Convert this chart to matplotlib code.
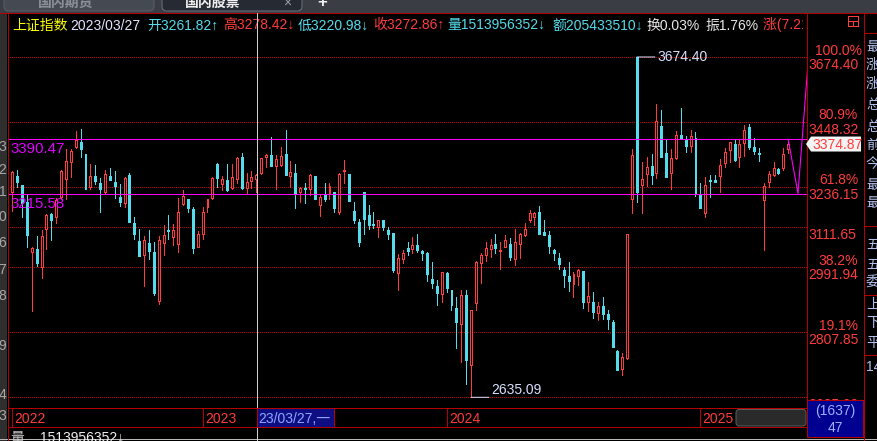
import numpy as np
import matplotlib
matplotlib.use('Agg')
import matplotlib.pyplot as plt
from matplotlib.patches import Rectangle, FancyBboxPatch, Polygon
from matplotlib.transforms import Bbox, TransformedBbox

plt.rcParams['font.family'] = ['Liberation Sans', 'Noto Sans CJK SC', 'DejaVu Sans']

# ---------------- data (weekly candles, 上证指数) ----------------
opens = [3221.6, 3272.0, 3242.6, 3190.1, 3038.2, 3046.1, 2991.9, 3105.2, 3151.9, 3143.8,
         3203.7, 3260.5, 3317.4, 3364.1, 3381.5, 3342.4, 3237.4, 3271.0, 3247.9, 3220.6,
         3271.0, 3252.1, 3205.8, 3186.9, 3274.1, 3125.5, 3070.7, 3029.4, 3064.8, 3037.2,
         2896.1, 3064.8, 3103.2, 3080.9, 3059.9, 3183.8, 3198.5, 3167.2, 3051.0, 3092.0,
         3172.3, 3202.7, 3309.9, 3246.8, 3258.4, 3234.2, 3260.5, 3333.7, 3232.1, 3256.3,
         3261.82, 3279.4, 3333.7, 3338.1, 3304.4, 3306.6, 3342.4, 3272.0, 3280.5, 3220.6,
         3233.2, 3229.0, 3271.0, 3180.6, 3212.1, 3213.2, 3220.6, 3159.1, 3287.0, 3277.3,
         3161.1, 3127.6, 3219.5, 3148.9, 3121.5, 3113.3, 3132.6, 3103.2, 3094.0, 2974.2,
         3015.6, 3049.1, 3047.1, 3058.9, 3041.1, 3034.3, 2958.0, 2938.0, 2914.1, 2975.2,
         2926.6, 2875.2, 2830.0, 2912.3, 2720.6, 2890.3, 3005.7, 3028.4, 3047.1, 3060.9,
         3041.1, 3053.0, 3060.9, 3017.5, 3061.9, 3088.9, 3133.7, 3143.8, 3158.0, 3097.1,
         3087.9, 3043.1, 3019.5, 2984.0, 2966.6, 2944.7, 2967.5, 2981.1, 2893.2, 2892.2,
         2862.3, 2880.8, 2858.6, 2836.5, 2756.3, 2709.9, 2738.5, 3197.4, 3674.40, 3242.6,
         3278.4, 3303.3, 3279.4, 3435.1, 3345.6, 3279.4, 3330.4, 3404.8, 3389.2, 3368.4,
         3394.7, 3212.1, 3154.0, 3258.4, 3258.4, 3272.0, 3312.0, 3355.4, 3375.0, 3331.5,
         3377.1, 3431.7, 3364.1, 3345.6, 3196.4, 3253.1, 3274.1, 3293.6, 3297.9, 3357.6]
highs = [3287.0, 3290.3, 3242.6, 3211.1, 3051.0, 3084.9, 3103.2, 3151.9, 3156.0, 3200.6,
         3290.3, 3358.7, 3357.6, 3419.4, 3425.0, 3342.4, 3309.9, 3306.6, 3263.6, 3290.3,
         3296.8, 3287.0, 3245.8, 3268.9, 3279.4, 3141.8, 3106.2, 3084.9, 3103.2, 3066.8,
         3084.9, 3118.4, 3148.9, 3120.4, 3201.6, 3226.9, 3198.5, 3174.3, 3100.1, 3174.3,
         3198.5, 3268.9, 3314.2, 3272.0, 3309.9, 3309.9, 3333.7, 3345.6, 3279.4, 3287.0,
         3278.42, 3330.4, 3341.3, 3397.0, 3339.1, 3365.2, 3421.6, 3319.6, 3309.9, 3237.4,
         3247.9, 3276.2, 3271.0, 3214.2, 3247.9, 3247.9, 3221.6, 3281.6, 3322.8, 3277.3,
         3189.0, 3136.7, 3220.6, 3179.6, 3158.0, 3133.7, 3133.7, 3113.3, 3095.0, 3031.3,
         3043.1, 3066.8, 3082.9, 3091.0, 3044.1, 3038.2, 3007.7, 2955.1, 2978.1, 2978.1,
         2926.6, 2907.6, 2926.6, 2926.6, 2869.7, 3010.6, 3035.2, 3066.8, 3075.8, 3091.0,
         3067.8, 3086.9, 3078.8, 3106.2, 3094.0, 3123.5, 3164.1, 3158.0, 3177.5, 3133.7,
         3100.1, 3045.1, 3035.2, 2991.9, 3007.7, 2977.2, 2988.0, 2982.1, 2950.4, 2920.8,
         2892.2, 2907.6, 2869.7, 2841.1, 2759.9, 2752.8, 3091.0, 3358.7, 3674.40, 3316.3,
         3333.7, 3342.4, 3509.4, 3488.9, 3388.0, 3358.7, 3418.3, 3494.5, 3401.5, 3421.6,
         3413.8, 3249.0, 3266.8, 3274.1, 3274.1, 3326.0, 3363.0, 3382.6, 3388.0, 3388.0,
         3438.4, 3441.8, 3394.7, 3363.0, 3250.0, 3287.0, 3315.3, 3296.8, 3360.9, 3388.0]
lows = [3162.1, 3237.4, 3143.8, 3053.0, 2867.8, 2995.9, 2961.8, 3047.1, 3072.7, 3125.5,
        3197.4, 3199.5, 3266.8, 3360.9, 3333.7, 3231.1, 3230.0, 3245.8, 3159.1, 3216.3,
        3258.4, 3202.7, 3176.4, 3174.3, 3128.6, 3075.8, 3026.4, 2938.9, 3016.5, 2912.3,
        2887.5, 3028.4, 3075.8, 3058.9, 3038.2, 3180.6, 3157.0, 3035.2, 3051.0, 3076.8,
        3157.0, 3198.5, 3237.4, 3227.9, 3224.9, 3229.0, 3250.0, 3231.1, 3216.3, 3232.1,
        3220.98, 3277.3, 3301.1, 3304.4, 3231.1, 3303.3, 3275.2, 3237.4, 3171.3, 3189.0,
        3184.8, 3211.1, 3199.5, 3146.9, 3193.2, 3198.5, 3159.1, 3153.0, 3250.0, 3193.2,
        3125.5, 3056.0, 3092.0, 3107.2, 3110.2, 3082.9, 3104.2, 3074.7, 2979.1, 2926.6,
        3004.7, 3028.4, 3033.3, 3037.2, 3013.6, 2953.2, 2933.2, 2884.6, 2893.2, 2921.8,
        2869.7, 2766.2, 2728.7, 2669.8, 2635.09, 2869.7, 2946.6, 3011.6, 3023.5, 3033.3,
        2988.0, 3051.0, 3013.6, 2999.8, 3020.5, 3083.9, 3127.6, 3118.4, 3092.0, 3088.9,
        3035.2, 3013.6, 2988.0, 2936.1, 2924.6, 2907.6, 2940.8, 2876.1, 2867.8, 2847.6,
        2842.9, 2843.9, 2818.0, 2768.8, 2706.3, 2693.9, 2736.7, 3156.0, 3190.1, 3156.0,
        3239.5, 3245.8, 3265.7, 3333.7, 3268.9, 3231.1, 3326.0, 3391.4, 3349.9, 3349.9,
        3209.0, 3171.3, 3143.8, 3205.8, 3253.1, 3221.6, 3300.0, 3317.4, 3320.6, 3301.1,
        3337.0, 3358.7, 3343.5, 3320.6, 3043.1, 3237.4, 3271.0, 3278.4, 3290.3, 3346.7]
closes = [3283.7, 3253.1, 3184.8, 3087.9, 3049.1, 3005.7, 3084.9, 3148.9, 3133.7, 3195.3,
          3287.0, 3319.6, 3351.1, 3388.0, 3359.8, 3231.1, 3271.0, 3256.3, 3231.1, 3277.3,
          3259.4, 3240.5, 3189.0, 3265.7, 3128.6, 3091.0, 3026.4, 3072.7, 3041.1, 2918.0,
          3072.7, 3087.9, 3101.2, 3103.2, 3158.0, 3208.0, 3171.3, 3050.0, 3091.0, 3158.0,
          3197.4, 3264.7, 3265.7, 3261.5, 3226.9, 3267.8, 3329.4, 3234.2, 3251.0, 3267.8,
          3272.86, 3328.3, 3338.1, 3304.4, 3325.0, 3335.9, 3275.2, 3283.7, 3217.4, 3233.2,
          3230.0, 3274.1, 3199.5, 3203.7, 3199.5, 3239.5, 3171.3, 3277.3, 3290.3, 3193.2,
          3133.7, 3067.8, 3137.7, 3118.4, 3118.4, 3132.6, 3113.3, 3092.0, 2984.0, 3019.5,
          3034.3, 3040.2, 3056.9, 3044.1, 3035.2, 2972.3, 2947.5, 2918.9, 2977.2, 2932.3,
          2884.6, 2837.4, 2911.4, 2733.1, 2868.8, 3007.7, 3028.4, 3048.1, 3057.9, 3050.0,
          3043.1, 3072.7, 3023.5, 3066.8, 3091.0, 3107.2, 3155.0, 3155.0, 3092.0, 3088.9,
          3056.0, 3035.2, 3002.8, 2969.4, 2953.2, 2971.3, 2984.0, 2893.2, 2909.5, 2865.1,
          2880.8, 2858.6, 2844.8, 2768.8, 2706.3, 2740.3, 3090.0, 3339.1, 3220.6, 3260.5,
          3300.0, 3275.2, 3451.9, 3333.7, 3268.9, 3328.3, 3403.8, 3391.4, 3368.4, 3400.4,
          3218.5, 3171.3, 3242.6, 3255.2, 3253.1, 3305.5, 3347.8, 3380.4, 3322.8, 3375.0,
          3421.6, 3364.1, 3353.2, 3343.5, 3239.5, 3277.3, 3297.9, 3280.5, 3342.4, 3374.87]

year_labels = ['2022', '2023', '2024', '2025']
year_start_idx = [0, 39, 89, 141]

swing_high = 3674.40
swing_low = 2635.09
fib_pcts = [0.0, 19.1, 38.2, 50.0, 61.8, 80.9, 100.0]
fib_pct_shown = [False, True, True, False, True, True, True]

magenta_levels = [3390.47, 3215.58]
v_idx = [159, 161, 163]
v_price = [3390.47, 3215.58, 3640.0]

last_price = 3374.87
cursor_idx = 50
cursor_date = '23/03/27,一'

header_items = [('上证指数', '#ffff00', 12), ('2023/03/27', '#e4e4ff', 70),
                ('开3261.82↑', '#55dcec', 147), ('高3278.42↓', '#ff3c3c', 223),
                ('低3220.98↓', '#55dcec', 298), ('收3272.86↑', '#ff3c3c', 373),
                ('量1513956352↓', '#55dcec', 447), ('额205433510↓', '#55dcec', 552),
                ('换0.03%', '#e8e8e8', 646), ('振1.76%', '#e8e8e8', 705),
                ('涨(7.21 0.22%)', '#ff3c3c', 763)]
side_chars = ['最', '涨', '涨', '总', '总', '前', '今', '最', '最', '五', '五', '委', '上', '下', '平', '14']
side_y = [47, 65, 84, 105, 127, 145, 164, 185, 203, 245, 265, 283, 305, 323, 343, 367]
left_digits = ['3', '2', '1', '0', '6', '7', '8', '9', '4', '3']
left_digit_y = [147, 170, 192, 217, 243, 270, 296, 346, 395, 416]
total_vol = '1513956352↓'
box_top, box_bot = '(1637)', '47'

# ---------------- style ----------------
W, H = 878, 441
PX = 0.72
FS = 10
RED = '#ff3c3c'
CYAN = '#55dcec'
FRAME = '#b40000'
GRID = '#c00000'
MAG = '#ff00ff'

fig = plt.figure(figsize=(W / 100, H / 100), dpi=100, facecolor='black')
ax = fig.add_axes([8 / W, (H - 408) / H, 799 / W, 395 / H])
ax.set_facecolor('black')
ax.set_yscale('log')
ax.set_ylim(2607.7, 3835.8)
ax.set_xlim(-0.88, 162.85)
ax.tick_params(which='both', left=False, bottom=False, labelleft=False, labelbottom=False)
ax.yaxis.set_minor_locator(matplotlib.ticker.NullLocator())
ax.yaxis.set_major_locator(matplotlib.ticker.NullLocator())
for s in ax.spines.values():
    s.set_visible(False)

# fib dotted lines
lnh, lnl = np.log(swing_high), np.log(swing_low)
fib_levels = [float(np.exp(lnl + p / 100 * (lnh - lnl))) for p in fib_pcts]
for lv in fib_levels:
    ax.axhline(lv, color=GRID, lw=PX, ls=(0, (1, 2)), antialiased=False, zorder=1)

# magenta drawing lines
for lv in magenta_levels:
    ax.axhline(lv, color=MAG, lw=PX, antialiased=False, zorder=4)
ax.plot(v_idx, v_price, color=MAG, lw=1.1 * PX, zorder=4)

# candles
for i, (o, h, l, c) in enumerate(zip(opens, highs, lows, closes)):
    up = c >= o
    col = RED if up else CYAN
    top, bot = max(o, c), min(o, c)
    ax.vlines(i, top, h, color=col, lw=PX, antialiased=False, zorder=2)
    ax.vlines(i, l, bot, color=col, lw=PX, antialiased=False, zorder=2)
    ax.add_patch(Rectangle((i - 0.2, bot), 0.4, top - bot, facecolor='black' if up else col,
                           edgecolor=col, lw=PX, antialiased=False, zorder=3))

# left magenta labels
for lv in magenta_levels:
    ax.annotate(f'{lv:.2f}', xy=(0, lv), xycoords=('axes fraction', 'data'),
                xytext=(2, -14), textcoords='offset pixels', va='baseline', ha='left',
                color='#e000ff', fontsize=10.8, zorder=6)

# high / low annotations
hi_i = int(np.argmax(highs))
lo_i = int(np.argmin(lows))
ANN = '#d8e0ff'
ax.annotate('', xy=(hi_i, highs[hi_i]), xytext=(18, 0), textcoords='offset pixels',
            arrowprops=dict(arrowstyle='-', color=ANN, lw=PX, shrinkA=0, shrinkB=0))
ax.annotate(f'{highs[hi_i]:.2f}', xy=(hi_i, highs[hi_i]), xytext=(20, 0), textcoords='offset pixels',
            va='center', ha='left', color=ANN, fontsize=FS)
ax.annotate('', xy=(lo_i, lows[lo_i]), xytext=(18, 0), textcoords='offset pixels',
            arrowprops=dict(arrowstyle='-', color=ANN, lw=PX, shrinkA=0, shrinkB=0))
ax.annotate(f'{lows[lo_i]:.2f}', xy=(lo_i, lows[lo_i]), xytext=(20, 3), textcoords='offset pixels',
            va='baseline', ha='left', color=ANN, fontsize=FS)

# ---------------- overlay (pixel coordinates) ----------------
ov = fig.add_axes([0, 0, 1, 1], zorder=5)
ov.set_xlim(0, W)
ov.set_ylim(H, 0)
ov.axis('off')
ov.patch.set_alpha(0)


def xpix(i):
    return ax.transData.transform((i, 3000.0))[0]


def ypix(p):
    return H - ax.transData.transform((0, p))[1]


def line(x0, y0, x1, y1, color, lw=1.0, z=3):
    ov.plot([x0, x1], [y0, y1], color=color, lw=lw * PX, antialiased=False,
            solid_capstyle='butt', zorder=z)


# tab bar
ov.add_patch(Rectangle((0, 0), W, 12.5, fc='#3a3d44', ec='none', zorder=1))
ov.add_patch(FancyBboxPatch((4, -6), 150, 17, boxstyle='round,pad=0,rounding_size=5',
                            fc='#454952', ec='#5a5e68', lw=PX, zorder=1.5))
ov.add_patch(FancyBboxPatch((162, -6), 140, 17, boxstyle='round,pad=0,rounding_size=5',
                            fc='#262a33', ec='#6a7080', lw=PX, zorder=1.5))
ov.text(66, 2.5, '国内期货', color='#8c9099', fontsize=FS, ha='center', va='center',
        fontweight='bold', zorder=2)
ov.text(213, 2.5, '国内股票', color='#f0f0f0', fontsize=FS, ha='center', va='center',
        fontweight='bold', zorder=2)
ov.text(287, 2.5, '×', color='#9aa0aa', fontsize=FS, ha='center', va='center', zorder=2)
ov.text(322, 2.5, '+', color='#f0f0f0', fontsize=FS + 2, ha='center', va='center',
        fontweight='bold', zorder=2)

# left strip
ov.add_patch(Rectangle((0, 12.5), 7.5, H - 12.5, fc='#2e2e2e', ec='none', zorder=1))
for d, y in zip(left_digits, left_digit_y):
    ov.text(6.5, y, d, color='#a8a8a8', fontsize=FS, ha='right', va='center', zorder=2)

# frame lines
line(0, 13, W, 13, FRAME)
line(8, 13, 8, H, FRAME)
line(807, 13, 807, 400, FRAME)
line(864, 13, 864, H, FRAME)
for yy in [33, 226, 295, 355]:
    line(864, yy, W, yy, FRAME)

# window icon
ov.add_patch(Rectangle((848, 15.5), 10, 10, fc='none', ec=RED, lw=PX, antialiased=False, zorder=3))
line(848, 20.5, 858, 20.5, RED)
line(853, 20.5, 853, 25.5, RED)

# header (clipped at the chart's right border)
hdr_clip = TransformedBbox(Bbox([[8, 13], [803, 43]]), ov.transData)
for txt, col, x in header_items:
    t = ov.text(x, 29.5, txt, color=col, fontsize=FS, ha='left', va='baseline', zorder=4)
    t.set_clip_box(hdr_clip)
    t.set_clip_on(True)

# right fib labels
for p, lv, shown in zip(fib_pcts, fib_levels, fib_pct_shown):
    y = ypix(lv)
    if shown:
        ov.text(838.5, y - 2.5, f'{p:.1f}%', color=RED, fontsize=FS, ha='center', va='baseline', zorder=3)
    ov.text(808, y + 12, f'{lv:.2f}', color=RED, fontsize=FS, ha='left', va='baseline', zorder=3)

# last price tag
yl = ypix(last_price)
ov.add_patch(Polygon([[806, yl], [811, yl - 7.5], [861, yl - 7.5], [861, yl + 7.5], [811, yl + 7.5]],
                     closed=True, fc='#f4f4f4', ec='none', zorder=4))
ov.text(812, yl + 5, f'{last_price:.2f}', color=RED, fontsize=FS, ha='left', va='baseline', zorder=5)

# side column characters
for ch, y in zip(side_chars, side_y):
    ov.text(866, y, ch, color='#b4c0ea', fontsize=FS, ha='left', va='center', zorder=3)

# x axis band
line(8, 408, 807, 408, FRAME)
line(8, 427, 807, 427, FRAME)
for lab, idx in zip(year_labels, year_start_idx):
    x = round(xpix(idx)) + 0.5
    line(x, 408, x, 427, FRAME)
    ov.text(x + 2, 423, lab, color=RED, fontsize=FS, ha='left', va='baseline', zorder=3)

# scrollbar
ov.add_patch(FancyBboxPatch((736, 409.5), 70, 16.5, boxstyle='round,pad=0,rounding_size=3',
                            fc='#2a2a2a', ec='#5c5c5c', lw=PX, zorder=3))

# crosshair
xc = round(xpix(cursor_idx)) + 1.5
line(xc, 13, xc, H, '#cfcfcf', z=6)
ov.add_patch(Rectangle((xc, 408), 77, 19, fc='#0e0e82', ec=FRAME, lw=PX, antialiased=False, zorder=6))
ov.text(xc + 1, 423, cursor_date, color='#90a6ff', fontsize=FS, ha='left', va='baseline', zorder=7)

# bottom box
ov.add_patch(Rectangle((807.5, 400), 55.5, 37, fc='#000090', ec=FRAME, lw=PX, antialiased=False, zorder=6))
ov.text(835, 411, box_top, color='#9db2ff', fontsize=FS, ha='center', va='center', zorder=7)
ov.text(835, 428, box_bot, color='#9db2ff', fontsize=FS, ha='center', va='center', zorder=7)

# bottom row
line(0, 438.5, W, 438.5, '#b8b8b8', z=2)
ov.text(10, 442, '量', color='#c8c8c8', fontsize=FS, ha='left', va='baseline', zorder=3)
ov.text(40, 442, total_vol, color='#f0f0f0', fontsize=FS, ha='left', va='baseline', zorder=3)

fig.savefig('out.png', dpi=100, facecolor='black')
